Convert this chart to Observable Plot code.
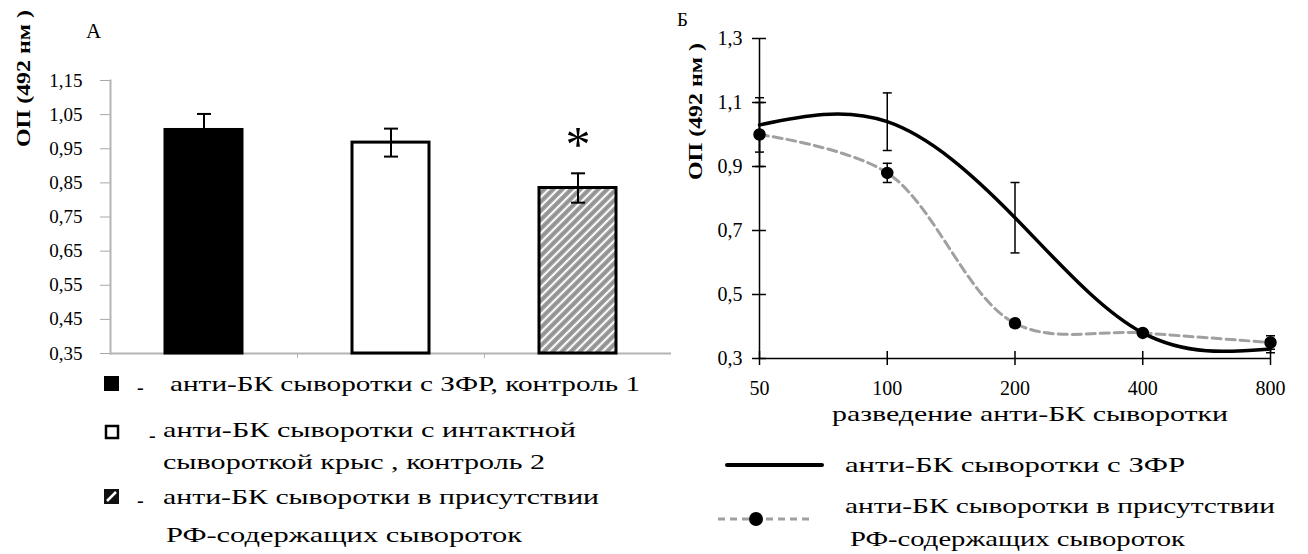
<!DOCTYPE html>
<html><head><meta charset="utf-8">
<script src="https://cdn.jsdelivr.net/npm/d3@7"></script>
<script src="https://cdn.jsdelivr.net/npm/@observablehq/plot@0.6"></script>
<style>
html,body{margin:0;padding:0;background:#fff;}
#root{position:relative;width:1308px;height:554px;overflow:hidden;background:#fff;font-family:"Liberation Serif","DejaVu Serif",serif;}
#root svg text{font-family:"Liberation Serif","DejaVu Serif",serif;}
</style></head><body>
<div id="root"></div>
<script>
// ---------- Panel A (bars) ----------
const barCategories = ["контроль 1", "контроль 2", "РФ"];
const barValues = [1.005, 0.968, 0.835];
const barErrors = [0.047, 0.041, 0.043];
const barMarks = ["", "", "*"];
const barTicks = [0.35, 0.45, 0.55, 0.65, 0.75, 0.85, 0.95, 1.05, 1.15];

// ---------- Panel Б (lines) ----------
const dilutions = [50, 100, 200, 400, 800];
const zfrValues = [1.03, 1.04, 0.74, 0.38, 0.33];
const zfrErrors = [0.085, 0.09, 0.11, 0.006, 0.012];
const rfValues = [1.00, 0.88, 0.41, 0.38, 0.35];
const rfErrors = [0.10, 0.03, 0.012, 0.006, 0.021];
const lineTicksY = [0.3, 0.5, 0.7, 0.9, 1.1, 1.3];

// styles
const barFills = ["#000", "#fff", "url(#hatch)"];
const FONT = "'Liberation Serif','DejaVu Serif',serif";

const root = document.getElementById("root");
const fmt2 = d => d.toFixed(2).replace(".", ",");
const fmt1 = d => d.toFixed(1).replace(".", ",");
const capSymbol = {draw(ctx, size) { const r = Math.sqrt(size / Math.PI); ctx.moveTo(-r, 0); ctx.lineTo(r, 0); }};

const barData = barCategories.map((c, i) => ({c, v: barValues[i], e: barErrors[i], m: barMarks[i], fill: barFills[i]}));

const pIn = 0.59, pOut = 0.295;
const AW = 680, AmL = 110, AmR = 9;
const step = (AW - AmL - AmR) / (barCategories.length - pIn + 2 * pOut);

const chartA = Plot.plot({
  width: AW, height: 362, marginLeft: AmL, marginRight: AmR, marginTop: 80, marginBottom: 9,
  style: {fontFamily: FONT, fontSize: "19px", color: "#000", background: "transparent", overflow: "visible"},
  x: {type: "band", domain: barCategories, paddingInner: pIn, paddingOuter: pOut, axis: null},
  y: {domain: [0.35, 1.15], axis: null},
  color: {type: "identity"},
  marks: [
    Plot.ruleY([0.35], {stroke: "#b4b4b4", strokeWidth: 2}),
    Plot.ruleX(barCategories.slice(0, -1), {x: d => d, dx: step / 2, y1: 0.35, y2: 0.35, insetBottom: -5, stroke: "#b4b4b4"}),
    Plot.axisY(barTicks, {anchor: "left", tickSize: 10, tickPadding: 18, stroke: "#a8a8a8", fill: "#000", fontSize: 19, tickFormat: fmt2, label: null}),
    Plot.frame({anchor: "left", stroke: "#b4b4b4", strokeWidth: 2}),
    Plot.barY(barData, {x: "c", y1: 0.35, y2: "v", fill: "fill", stroke: "#000", strokeWidth: 3}),
    Plot.ruleX(barData, {x: "c", y1: d => d.v - d.e, y2: d => d.v + d.e, stroke: "#000", strokeWidth: 2}),
    Plot.dot(barData, {x: "c", y: d => d.v + d.e, symbol: capSymbol, r: 7, fill: "none", stroke: "#000", strokeWidth: 2}),
    Plot.dot(barData, {x: "c", y: d => d.v - d.e, symbol: capSymbol, r: 7, fill: "none", stroke: "#000", strokeWidth: 2}),
    Plot.text(barData, {x: "c", y: d => d.v + d.e, text: "m", dy: -28, fontSize: 50, fill: "#000"})
  ]
});
chartA.style.position = "absolute"; chartA.style.left = "0px"; chartA.style.top = "0px";
root.appendChild(chartA);

const lineData = (vals, errs, s) => dilutions.map((d, i) => ({d, v: vals[i], e: errs[i], s}));
const zfrData = lineData(zfrValues, zfrErrors, "ЗФР");
const rfData = lineData(rfValues, rfErrors, "РФ");
const allData = zfrData.concat(rfData);

const chartB = Plot.plot({
  width: 648, height: 400, marginLeft: 99, marginRight: 38, marginTop: 38, marginBottom: 42,
  style: {fontFamily: FONT, fontSize: "20px", color: "#000", background: "transparent", overflow: "visible"},
  x: {type: "log", base: 2, domain: [50, 800], axis: null},
  y: {domain: [0.3, 1.3], axis: null},
  marks: [
    Plot.axisY(lineTicksY, {anchor: "left", tickSize: 14, dx: 7, tickPadding: 10, fontSize: 20, tickFormat: fmt1, strokeWidth: 1.5, label: null}),
    Plot.axisX(dilutions, {anchor: "bottom", tickSize: 14, dy: -7, tickPadding: 15, fontSize: 20, tickFormat: d => String(d), strokeWidth: 1.5, label: null}),
    Plot.ruleX([50], {strokeWidth: 1.5}),
    Plot.ruleY([0.3], {strokeWidth: 1.5}),
    Plot.line(rfData, {x: "d", y: "v", curve: "catmull-rom", stroke: "#a0a0a0", strokeWidth: 3, strokeDasharray: "9,5"}),
    Plot.line(zfrData, {x: "d", y: "v", curve: "natural", stroke: "#000", strokeWidth: 3.5}),
    Plot.ruleX(allData, {x: "d", y1: d => d.v - d.e, y2: d => d.v + d.e, stroke: "#000", strokeWidth: 1.5}),
    Plot.dot(allData, {x: "d", y: d => d.v + d.e, symbol: capSymbol, r: 4.5, fill: "none", stroke: "#000", strokeWidth: 1.5}),
    Plot.dot(allData, {x: "d", y: d => d.v - d.e, symbol: capSymbol, r: 4.5, fill: "none", stroke: "#000", strokeWidth: 1.5}),
    Plot.dot(rfData, {x: "d", y: "v", r: 5.5, fill: "#000", stroke: "#000"})
  ]
});
chartB.style.position = "absolute"; chartB.style.left = "660px"; chartB.style.top = "0px";
root.appendChild(chartB);

// ---------- overlay: titles, labels, legends ----------
const ov = d3.select(root).append("svg")
  .attr("width", 1308).attr("height", 554)
  .style("position", "absolute").style("left", "0px").style("top", "0px")
  .style("pointer-events", "none")
  .style("font-family", FONT);

const defs = ov.append("defs");
const pat = defs.append("pattern").attr("id", "hatch").attr("patternUnits", "userSpaceOnUse").attr("width", 9).attr("height", 9);
pat.append("rect").attr("width", 9).attr("height", 9).attr("fill", "#a2a2a2");
pat.append("path").attr("d", "M-2.25,2.25 L2.25,-2.25 M0,9 L9,0 M6.75,11.25 L11.25,6.75").attr("stroke", "#fff").attr("stroke-width", 1.8);
pat.append("path").attr("d", "M-2.25,6.75 L6.75,-2.25 M2.25,11.25 L11.25,2.25").attr("stroke", "#7a7a7a").attr("stroke-width", 1);

function txt(x, y, s, size, len, opts = {}) {
  const t = ov.append("text").attr("x", x).attr("y", y).attr("font-size", size).attr("fill", "#000").text(s);
  if (len) t.attr("textLength", len).attr("lengthAdjust", "spacingAndGlyphs");
  if (opts.weight) t.attr("font-weight", opts.weight);
  if (opts.anchor) t.attr("text-anchor", opts.anchor);
  if (opts.transform) t.attr("transform", opts.transform);
  return t;
}

// panel letters
txt(86, 38, "А", 21);
txt(677, 26, "Б", 19);
// y labels
txt(0, 0, "ОП (492 нм )", 19, 137, {weight: "bold", anchor: "middle", transform: "translate(30,78.5) rotate(-90)"});
txt(0, 0, "ОП (492 нм )", 19, 137, {weight: "bold", anchor: "middle", transform: "translate(702,111.5) rotate(-90)"});
// x label panel Б
txt(832, 421, "разведение анти-БК сыворотки", 22, 396);

// legend A
ov.append("rect").attr("x", 104).attr("y", 376).attr("width", 15).attr("height", 15).attr("fill", "#000");
txt(137, 394, "-", 20);
txt(170, 391, "анти-БК сыворотки с ЗФР, контроль 1", 22, 470);

ov.append("rect").attr("x", 106).attr("y", 426).attr("width", 12).attr("height", 12).attr("fill", "#fff").attr("stroke", "#000").attr("stroke-width", 2.5);
txt(149, 442, "-", 20);
txt(163, 437, "анти-БК сыворотки с  интактной", 22, 413);
txt(163, 469, "сывороткой крыс , контроль 2", 22, 382);

ov.append("rect").attr("x", 104).attr("y", 489).attr("width", 15).attr("height", 15).attr("fill", "#111");
ov.append("path").attr("d", "M107,501 L116,492").attr("stroke", "#fff").attr("stroke-width", 2.5);
txt(137, 507, "-", 20);
txt(163, 504, "анти-БК сыворотки в присутствии", 22, 436);
txt(166, 542, "РФ-содержащих  сывороток", 22, 356);

// legend Б
ov.append("line").attr("x1", 727).attr("x2", 822).attr("y1", 465).attr("y2", 465).attr("stroke", "#000").attr("stroke-width", 4).attr("stroke-linecap", "round");
txt(845, 472, "анти-БК сыворотки с ЗФР", 22, 340);
ov.append("line").attr("x1", 718).attr("x2", 812).attr("y1", 519).attr("y2", 519).attr("stroke", "#a0a0a0").attr("stroke-width", 3).attr("stroke-dasharray", "7,5");
ov.append("circle").attr("cx", 756).attr("cy", 519).attr("r", 7).attr("fill", "#000");
txt(845, 513, "анти-БК сыворотки в присутствии", 22, 430);
txt(850, 546, "РФ-содержащих сывороток", 22, 335);
</script>
</body></html>
